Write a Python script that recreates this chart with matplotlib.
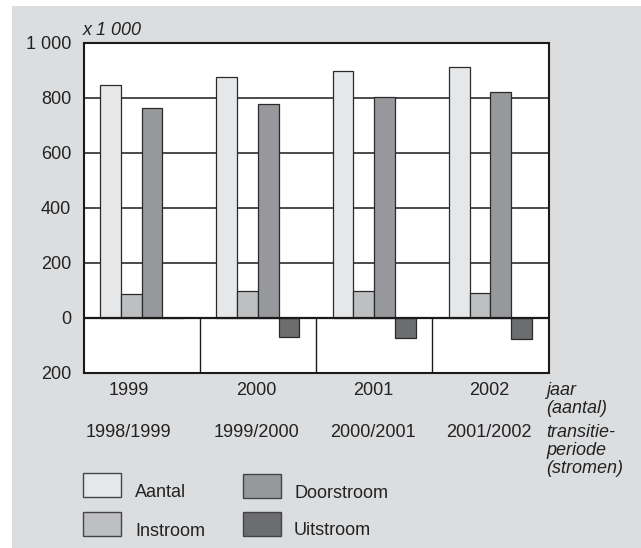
import matplotlib.pyplot as plt
from matplotlib.patches import Rectangle
from matplotlib.transforms import blended_transform_factory

plt.rcParams['font.family'] = ['Liberation Sans', 'DejaVu Sans']

years = ['1999', '2000', '2001', '2002']
periods = ['1998/1999', '1999/2000', '2000/2001', '2001/2002']
aantal = [847, 875, 898, 912]
instroom = [86, 98, 96, 90]
doorstroom = [762, 777, 802, 821]
uitstroom = [0, -70, -75, -77]

series = [('Aantal', aantal, '#e6e7e9'),
          ('Instroom', instroom, '#bebfc1'),
          ('Doorstroom', doorstroom, '#97989b'),
          ('Uitstroom', uitstroom, '#6c6d6f')]

W, H = 641, 548
FS = 13
fig = plt.figure(figsize=(W / 100, H / 100), dpi=100, facecolor='white')

# grey panel behind everything
fig.patches.append(Rectangle((12 / W, 0), 1 - 12 / W, (H - 6) / H,
                             transform=fig.transFigure, facecolor='#dcdddf',
                             edgecolor='none', zorder=-10))

def px(x, y):
    return x / W, 1 - y / H

ax = fig.add_axes([83.5 / W, (H - 372.5) / H, 465 / W, 329.5 / H])
ax.set_zorder(5)
ax.set_facecolor('white')

x = range(len(years))
w = 0.178
for k, (name, vals, col) in enumerate(series):
    xs = [i + (k - 1.5) * w for i in x]
    ax.bar(xs, vals, width=w, color=col, edgecolor='#2a2a2a', linewidth=0.9, zorder=3)

for g in [200, 400, 600, 800]:
    ax.axhline(g, color='#1a1a1a', lw=1.1, zorder=1)
ax.axhline(0, color='#1a1a1a', lw=1.6, zorder=4)
ax.vlines([0.5, 1.5, 2.5], -200, 0, color='#1a1a1a', lw=1.0, zorder=2)

ax.set_xlim(-0.5, 3.5)
ax.set_ylim(-200, 1000)
ax.set_yticks([-200, 0, 200, 400, 600, 800, 1000])
ax.set_yticklabels(['200', '0', '200', '400', '600', '800', '1 000'], fontsize=FS, color='#222222')
ax.set_xticks([])
ax.tick_params(axis='y', length=0, pad=9)
for s in ax.spines.values():
    s.set_color('#1a1a1a')
    s.set_linewidth(1.5)

fig.text(*px(83, 35), 'x 1 000', fontsize=FS, style='italic', color='#222222', va='baseline')

# category labels sit slightly off-centre in the original (first one especially)
shift = [-0.11, -0.015, -0.01, -0.01]
tr = blended_transform_factory(ax.transData, fig.transFigure)
for i in x:
    ax.text(i + shift[i], 1 - 395 / H, years[i], transform=tr, ha='center', va='baseline',
            fontsize=FS, color='#222222')
    ax.text(i + shift[i], 1 - 437 / H, periods[i], transform=tr, ha='center', va='baseline',
            fontsize=FS, color='#222222')

for txt, yb in [('jaar', 395), ('(aantal)', 413), ('transitie-', 437),
                ('periode', 455), ('(stromen)', 473)]:
    fig.text(*px(546, yb), txt, fontsize=FS, style='italic', color='#222222', va='baseline')

# legend keys
keys = [(83, 473, 135, 497, 0), (83, 512, 135, 536, 1),
        (243, 474, 294, 498, 2), (243, 512, 294, 535, 3)]
for bx, by, tx, ty, k in keys:
    name, _, col = series[k]
    fig.patches.append(Rectangle((bx / W, 1 - (by + 24) / H), 38 / W, 24 / H,
                                 transform=fig.transFigure, facecolor=col,
                                 edgecolor='#444444', lw=1.0, zorder=2))
    fig.text(*px(tx, ty), name, fontsize=FS, color='#222222', va='baseline')

fig.savefig('out.png', dpi=100, facecolor='white')
